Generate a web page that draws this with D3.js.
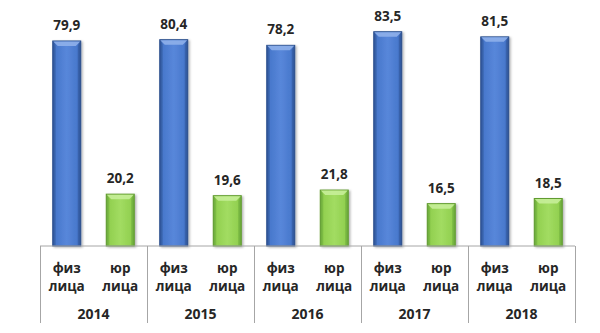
<!DOCTYPE html>
<html>
<head>
<meta charset="utf-8">
<script src="https://cdn.jsdelivr.net/npm/d3@7"></script>
<style>
  html, body { margin: 0; padding: 0; background: #fff; }
  svg { display: block; }
  text { font-family: "Open Sans", "Liberation Sans", sans-serif; font-weight: bold; fill: #262626; }
</style>
</head>
<body>
<svg id="chart" width="600" height="333"></svg>
<script>
// Chart data
const years = ["2014", "2015", "2016", "2017", "2018"];
const categories = ["физ лица", "юр лица"];
const physValues = [79.9, 80.4, 78.2, 83.5, 81.5];
const legalValues = [20.2, 19.6, 21.8, 16.5, 18.5];

const svg = d3.select("#chart");
const left = 40, right = 575, baseY = 246, axisBottom = 323;

const x0 = d3.scaleBand().domain(years).range([left, right]).padding(0);
const x1 = d3.scaleBand().domain(categories).range([0, x0.bandwidth()])
  .paddingInner(0.477).paddingOuter(0.238);
const y = d3.scaleLinear().domain([0, 100]).range([baseY, baseY - 256.6]);

const defs = svg.append("defs");
const palettes = {
  "физ лица": { dark: "#2f5597", mid: "#4878cc", light: "#5887da", top: "#8fb0ea", edge: "#2b4f8c" },
  "юр лица": { dark: "#6aa83a", mid: "#92d050", light: "#a2dc62", top: "#c6ee99", edge: "#5f9a2e" }
};
categories.forEach((c, i) => {
  const p = palettes[c];
  const g = defs.append("linearGradient").attr("id", "grad" + i)
    .attr("x1", 0).attr("x2", 1).attr("y1", 0).attr("y2", 0);
  g.append("stop").attr("offset", "0%").attr("stop-color", p.dark);
  g.append("stop").attr("offset", "12%").attr("stop-color", p.mid);
  g.append("stop").attr("offset", "50%").attr("stop-color", p.light);
  g.append("stop").attr("offset", "88%").attr("stop-color", p.mid);
  g.append("stop").attr("offset", "100%").attr("stop-color", p.dark);
});
const shadow = defs.append("filter").attr("id", "shadow")
  .attr("x", "-20%").attr("y", "-5%").attr("width", "150%").attr("height", "115%");
shadow.append("feDropShadow").attr("dx", 1.5).attr("dy", 1).attr("stdDeviation", 1.2)
  .attr("flood-color", "#000").attr("flood-opacity", 0.3);

const rows = [];
years.forEach((yr, i) => {
  rows.push({ year: yr, cat: categories[0], value: physValues[i], ci: 0 });
  rows.push({ year: yr, cat: categories[1], value: legalValues[i], ci: 1 });
});

// Bars with a bevelled look
const bars = svg.append("g").selectAll("g.bar").data(rows).join("g").attr("class", "bar");
bars.each(function(d) {
  const g = d3.select(this);
  const bx = x0(d.year) + x1(d.cat);
  const bw = x1.bandwidth();
  const by = y(d.value);
  const bh = baseY - by;
  const p = palettes[d.cat];
  g.append("rect").attr("x", bx).attr("y", by).attr("width", bw).attr("height", bh)
    .attr("fill", `url(#grad${d.ci})`).attr("stroke", p.edge).attr("stroke-width", 1)
    .attr("filter", "url(#shadow)");
  const bev = 5;
  g.append("path")
    .attr("d", `M${bx + 0.5},${by + 0.5} L${bx + bw - 0.5},${by + 0.5} L${bx + bw - bev},${by + bev} L${bx + bev},${by + bev} Z`)
    .attr("fill", p.top).attr("opacity", 0.9);
  g.append("path")
    .attr("d", `M${bx + 0.5},${by + 0.5} L${bx + 3},${by + bev} L${bx + 3},${baseY} L${bx + 0.5},${baseY} Z`)
    .attr("fill", p.dark).attr("opacity", 0.35);
  g.append("path")
    .attr("d", `M${bx + bw - 0.5},${by + 0.5} L${bx + bw - 3},${by + bev} L${bx + bw - 3},${baseY} L${bx + bw - 0.5},${baseY} Z`)
    .attr("fill", p.dark).attr("opacity", 0.45);
  // value label
  g.append("text").attr("x", bx + bw / 2).attr("y", by - 11)
    .attr("text-anchor", "middle").attr("font-size", 13.5)
    .text(d3.format(".1f")(d.value).replace(".", ","));
});

// Category axis: baseline and group separators
const axis = svg.append("g");
axis.append("line").attr("x1", left).attr("x2", right).attr("y1", baseY).attr("y2", baseY)
  .attr("stroke", "#a6a6a6").attr("stroke-width", 1);
const bounds = years.map(yr => x0(yr)).concat([right]);
axis.selectAll("line.sep").data(bounds).join("line").attr("class", "sep")
  .attr("x1", d => Math.round(d) + 0.5).attr("x2", d => Math.round(d) + 0.5)
  .attr("y1", baseY).attr("y2", axisBottom)
  .attr("stroke", "#a6a6a6").attr("stroke-width", 1);

years.forEach(yr => {
  categories.forEach(c => {
    const cx = x0(yr) + x1(c) + x1.bandwidth() / 2;
    const parts = c.split(" ");
    const t = axis.append("text").attr("x", cx).attr("text-anchor", "middle").attr("font-size", 13.5);
    t.append("tspan").attr("x", cx).attr("y", 273).text(parts[0]);
    t.append("tspan").attr("x", cx).attr("y", 291).text(parts[1]);
  });
  axis.append("text").attr("x", x0(yr) + x0.bandwidth() / 2).attr("y", 319)
    .attr("text-anchor", "middle").attr("font-size", 14).text(yr);
});
</script>
</body>
</html>
